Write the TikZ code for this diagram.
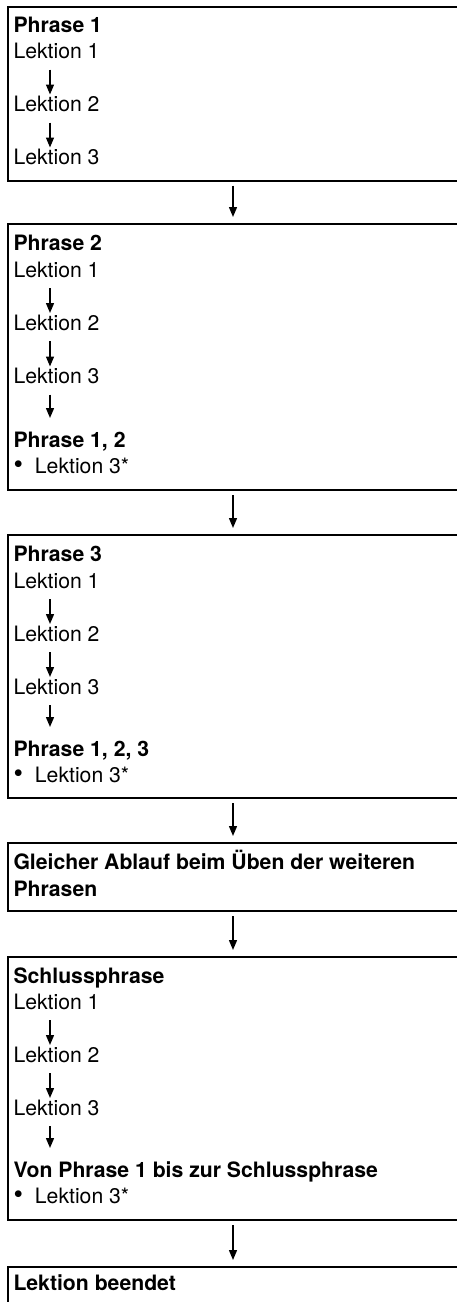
\documentclass[tikz,border=0pt]{standalone}
\usepackage{fontspec}
\setmainfont{TeX Gyre Heros}
\usetikzlibrary{arrows.meta,positioning}
\tikzset{
  stagebox/.style={
    rectangle, draw=black, line width=2pt,
    minimum width=451pt, inner sep=0pt, outer sep=0pt,
    anchor=north west
  },
  linetext/.style={
    anchor=base west, inner sep=0pt, outer sep=0pt,
    text height=15pt, text depth=5pt,
    font=\fontsize{21.2}{24}\selectfont
  },
  headtext/.style={
    linetext, font=\fontsize{21.2}{24}\selectfont\bfseries
  },
  flowarrow/.style={
    -{Triangle[length=10pt,width=8pt]}, line width=1.4pt,
    shorten >=7pt, shorten <=5pt
  },
  innerarrow/.style={
    -{Triangle[length=10pt,width=8pt]}, line width=1.4pt,
    shorten >=#1, shorten <=6pt
  },
  innerarrow/.default=2pt,
}
\newcommand{\bulletmark}{{\fontsize{27}{24}\selectfont •}}

\begin{document}
\begin{tikzpicture}[x=1pt,y=-1pt]
  \useasboundingbox (0,0) rectangle (457,1302);
  \clip (0,0) rectangle (457,1302);

  % Phrase 1
  \node[stagebox, minimum height=174pt] (box1) at (7.5,6.5) {};
  \node[headtext] (p1h) at (13.5,32) {Phrase 1};
  \node[linetext] (p1a) at (13.5,58.5) {Lektion 1};
  \node[linetext] (p1b) at (13.5,111.5) {Lektion 2};
  \node[linetext] (p1c) at (13.5,164.5) {Lektion 3};
  \draw[innerarrow] ([xshift=36.5pt]p1a.south west) -- ([xshift=36.5pt]p1b.north west);
  \draw[innerarrow] ([xshift=36.5pt]p1b.south west) -- ([xshift=36.5pt]p1c.north west);

  % Phrase 2
  \node[stagebox, minimum height=266pt] (box2) at (7.5,224) {};
  \node[headtext] (p2h) at (13.5,250) {Phrase 2};
  \node[linetext] (p2a) at (13.5,277) {Lektion 1};
  \node[linetext] (p2b) at (13.5,330) {Lektion 2};
  \node[linetext] (p2c) at (13.5,383.5) {Lektion 3};
  \node[headtext] (p2r) at (13.5,447) {Phrase 1, 2};
  \node[linetext] (p2s) at (13.5,473) {\bulletmark\hspace{12pt}Lektion 3*};
  \draw[innerarrow] ([xshift=36.5pt]p2a.south west) -- ([xshift=36.5pt]p2b.north west);
  \draw[innerarrow] ([xshift=36.5pt]p2b.south west) -- ([xshift=36.5pt]p2c.north west);
  \draw[innerarrow=14pt] ([xshift=36.5pt]p2c.south west) -- ([xshift=36.5pt]p2r.north west);

  % Phrase 3
  \node[stagebox, minimum height=263pt] (box3) at (7.5,535) {};
  \node[headtext] (p3h) at (13.5,561) {Phrase 3};
  \node[linetext] (p3a) at (13.5,588) {Lektion 1};
  \node[linetext] (p3b) at (13.5,641) {Lektion 2};
  \node[linetext] (p3c) at (13.5,694) {Lektion 3};
  \node[headtext] (p3r) at (13.5,756) {Phrase 1, 2, 3};
  \node[linetext] (p3s) at (13.5,782) {\bulletmark\hspace{12pt}Lektion 3*};
  \draw[innerarrow] ([xshift=36.5pt]p3a.south west) -- ([xshift=36.5pt]p3b.north west);
  \draw[innerarrow] ([xshift=36.5pt]p3b.south west) -- ([xshift=36.5pt]p3c.north west);
  \draw[innerarrow=14pt] ([xshift=36.5pt]p3c.south west) -- ([xshift=36.5pt]p3r.north west);

  % weitere Phrasen
  \node[stagebox, minimum height=68pt] (box4) at (7.5,843) {};
  \node[headtext] (g1) at (13.5,869) {Gleicher Ablauf beim Üben der weiteren};
  \node[headtext] (g2) at (13.5,896) {Phrasen};

  % Schlussphrase
  \node[stagebox, minimum height=263pt] (box5) at (7.5,957) {};
  \node[headtext] (p5h) at (13.5,983) {Schlussphrase};
  \node[linetext] (p5a) at (13.5,1009) {Lektion 1};
  \node[linetext] (p5b) at (13.5,1062) {Lektion 2};
  \node[linetext] (p5c) at (13.5,1115) {Lektion 3};
  \node[headtext] (p5r) at (13.5,1177) {Von Phrase 1 bis zur Schlussphrase};
  \node[linetext] (p5s) at (13.5,1203) {\bulletmark\hspace{12pt}Lektion 3*};
  \draw[innerarrow] ([xshift=36.5pt]p5a.south west) -- ([xshift=36.5pt]p5b.north west);
  \draw[innerarrow] ([xshift=36.5pt]p5b.south west) -- ([xshift=36.5pt]p5c.north west);
  \draw[innerarrow=14pt] ([xshift=36.5pt]p5c.south west) -- ([xshift=36.5pt]p5r.north west);

  % Ende
  \node[stagebox, minimum height=80pt] (box6) at (7.5,1267) {};
  \node[headtext] (e1) at (13.5,1290) {Lektion beendet};

  \draw[flowarrow] (box1.south) -- (box2.north);
  \draw[flowarrow] (box2.south) -- (box3.north);
  \draw[flowarrow] (box3.south) -- (box4.north);
  \draw[flowarrow] (box4.south) -- (box5.north);
  \draw[flowarrow] (box5.south) -- (box6.north);
\end{tikzpicture}
\end{document}
